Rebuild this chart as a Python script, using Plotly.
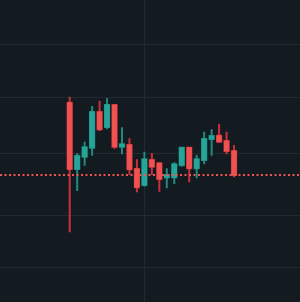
import plotly.graph_objects as go

idx = list(range(23))
opens = [19.93, 13.30, 14.53, 15.43, 19.00, 17.50, 19.70, 15.53, 15.70, 13.30, 11.70, 14.20,
         13.87, 12.47, 12.47, 13.70, 15.43, 13.37, 14.20, 16.30, 16.63, 16.10, 15.10]
highs = [20.53, 14.87, 16.03, 19.60, 20.13, 20.37, 19.75, 17.47, 16.37, 14.27, 15.03, 14.90,
         13.90, 13.37, 13.97, 15.53, 15.53, 14.70, 17.03, 17.27, 17.80, 17.03, 15.70]
lows = [6.97, 11.10, 13.63, 14.63, 17.10, 17.27, 15.30, 14.77, 12.70, 10.97, 11.53, 12.70,
        11.03, 11.37, 11.80, 13.53, 11.97, 12.37, 13.77, 14.63, 15.95, 14.77, 12.47]
closes = [13.30, 14.60, 15.47, 19.00, 17.27, 19.70, 15.53, 15.77, 13.27, 11.47, 14.27, 13.53,
          12.30, 12.70, 13.77, 15.43, 13.37, 14.27, 16.30, 16.60, 16.03, 15.10, 12.70]
y_ticks = [3.5, 8.7, 14.9, 20.5, 25.8]
x_ticks = [10]

BG = "#131b21"
GRID = "#1f2a31"
UP = "#26a69a"
DOWN = "#ef5350"
UP_WICK = "#1f8a7f"
DOWN_WICK = "#c9303e"

body_hi = [max(o, c) for o, c in zip(opens, closes)]
body_lo = [min(o, c) for o, c in zip(opens, closes)]

fig = go.Figure()
# wicks (full range)
fig.add_trace(go.Candlestick(
    x=idx, open=opens, high=highs, low=lows, close=closes,
    increasing=dict(line=dict(color=UP_WICK, width=2), fillcolor=UP_WICK),
    decreasing=dict(line=dict(color=DOWN_WICK, width=2), fillcolor=DOWN_WICK),
    whiskerwidth=0, hoverinfo="skip", showlegend=False,
))
# bodies
fig.add_trace(go.Candlestick(
    x=idx, open=opens, high=body_hi, low=body_lo, close=closes,
    increasing=dict(line=dict(color=UP, width=1), fillcolor=UP),
    decreasing=dict(line=dict(color=DOWN, width=1), fillcolor=DOWN),
    whiskerwidth=0, showlegend=False,
))

fig.add_shape(type="line", xref="paper", x0=0, x1=1, y0=closes[-1], y1=closes[-1],
              line=dict(color=DOWN, width=2, dash="2px,2.5px"), layer="above")

fig.update_layout(
    width=300, height=302,
    margin=dict(l=0, r=0, t=0, b=0),
    paper_bgcolor=BG, plot_bgcolor=BG,
    showlegend=False,
    boxgap=0.2,
    xaxis=dict(range=[-9.33, 30.83], rangeslider=dict(visible=False),
               tickvals=x_ticks, showticklabels=False, showgrid=True,
               gridcolor=GRID, gridwidth=1, zeroline=False, showline=False),
    yaxis=dict(range=[0, 30.2], tickvals=y_ticks, showticklabels=False,
               showgrid=True, gridcolor=GRID, gridwidth=1, zeroline=False, showline=False),
)

fig.write_html("out.html")
